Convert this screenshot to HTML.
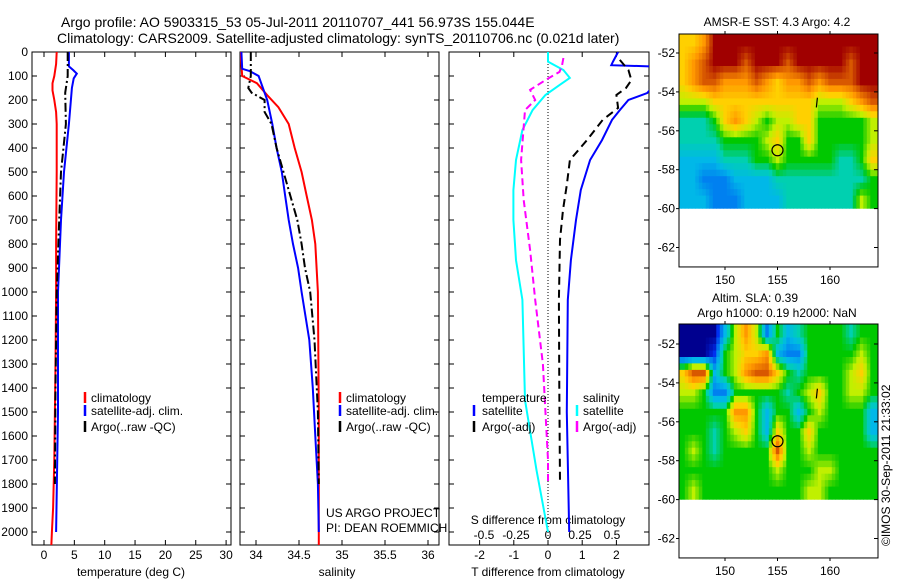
<!DOCTYPE html>
<html><head><meta charset="utf-8"><style>
body{margin:0;background:#fff}
svg{display:block;font-family:"Liberation Sans",sans-serif;font-size:12px}
</style></head><body>
<svg id="fig" width="900" height="580" xmlns="http://www.w3.org/2000/svg"></svg>
<script>
// ---------- data ----------
const tempClimDepth=[0,50,100,130,160,200,250,300,500,800,1000,1300,1500,1700,1900,2000,2060];
const tempClimVal=[2.1,2.0,1.7,1.4,1.4,1.7,2.0,2.1,2.1,2.0,2.0,1.9,1.8,1.7,1.5,1.3,1.2];
const tempSatDepth=[0,60,75,90,110,150,300,500,700,1000,1500,2000];
const tempSatVal=[4.1,4.1,4.8,5.4,4.9,4.6,4.1,3.3,2.8,2.3,2.3,2.0];
const tempArgoDepth=[0,100,170,300,500,700,1000,1400,1800];
const tempArgoVal=[3.9,3.9,3.5,3.6,2.8,2.5,2.1,1.9,1.8];

const salClimDepth=[0,100,130,180,230,300,400,500,600,700,800,1000,1500,2060];
const salClimVal=[33.82,33.84,34.01,34.13,34.26,34.38,34.45,34.53,34.59,34.65,34.69,34.72,34.73,34.73];
const salSatDepth=[0,70,80,100,150,200,300,400,500,600,700,800,900,1000,1200,1400,1600,1800,2000];
const salSatVal=[33.83,33.84,33.93,34.03,34.08,34.13,34.19,34.24,34.30,34.34,34.38,34.43,34.49,34.53,34.62,34.66,34.69,34.72,34.73];
const salArgoDepth=[0,100,150,170,200,250,300,400,500,600,700,800,900,1000,1200,1500,1800];
const salArgoVal=[33.94,33.94,33.91,33.95,34.10,34.10,34.18,34.24,34.32,34.40,34.48,34.53,34.57,34.63,34.68,34.72,34.73];

const dTSatDepth=[0,40,55,62,66,75,171,200,242,283,367,450,575,700,867,1033,1500,2000];
const dTSatVal=[2.05,1.9,1.85,3.5,3.5,3.5,2.9,2.35,2.1,1.87,1.58,1.23,0.96,0.82,0.67,0.58,0.55,0.62];
const dTArgoDepth=[33,75,117,150,179,233,283,367,450,554,658,783,1033,1400,1800];
const dTArgoVal=[2.1,2.35,2.44,2.28,2.0,2.05,1.6,1.14,0.64,0.55,0.44,0.35,0.32,0.33,0.35];
const dSSatDepth=[0,40,75,108,138,179,242,325,450,575,700,867,1033,1450,1742,2000];
const dSSatVal=[0,0,0.12,0.17,0.09,-0.02,-0.12,-0.2,-0.25,-0.27,-0.27,-0.25,-0.2,-0.18,-0.09,0];
const dSArgoDepth=[25,54,83,117,158,200,242,450,617,825,1033,1300,1700,1800];
const dSArgoVal=[0.12,0.11,0.09,-0.02,-0.14,-0.1,-0.18,-0.21,-0.19,-0.14,-0.1,-0.04,0,0];

const depthTicks=[0,100,200,300,400,500,600,700,800,900,1000,1100,1200,1300,1400,1500,1600,1700,1800,1900,2000];
const tempTicks=[0,5,10,15,20,25,30];
const salTicks=[34,34.5,35,35.5,36];
const salTickLabels=["34","34.5","35","35.5","36"];
const dTTicks=[-2,-1,0,1,2];
const dSTicks=[-0.5,-0.25,0,0.25,0.5];
const dSTickLabels=["-0.5","-0.25","0","0.25","0.5"];
const latTicks=[-52,-54,-56,-58,-60,-62];
const lonTicks=[150,155,160];

const sstGrid=[
[7,7,8,10,10,10,10,10,10,10,10,10,10,10,10,10,10,10,10],
[7,8,9,10,10,10,9,10,10,10,9,10,10,10,10,10,9,10,10],
[7,8,9,9,8,8,8,9,8,7,8,8,9,8,9,9,9,10,10],
[6,6,6,7,7,7,7,7,7,7,7,7,7,6,6,6,7,8,9],
[4,4,4,5,7,8,7,6,5,6,6,7,7,5,5,5,5,5,6],
[4,4,4,4,5,5,5,5,6,7,5,5,7,5,5,5,5,5,6],
[3,3,3,3,4,4,4,5,5,6,5,5,5,5,5,4,4,5,7],
[3,3,2,2,2,3,3,3,3,4,4,4,4,4,4,4,4,4,5],
[3,3,3,2,2,2,3,3,3,3,4,4,4,4,4,4,4,6,5]];
const slaGrid=[
[0,0,0,0,3,6,8,6,2,5,3,4,5,5,5,5,4,5,5],
[0,0,0,1,5,6,7,7,8,3,2,2,5,5,5,5,5,6,5],
[7,9,9,3,5,6,8,9,9,7,5,4,5,5,5,5,6,7,5],
[6,6,5,2,2,5,5,5,5,5,4,5,6,7,5,5,6,6,5],
[5,5,5,5,5,8,8,5,3,5,5,3,5,6,5,5,5,5,3],
[5,5,5,4,5,6,7,5,3,7,5,5,7,5,5,5,5,5,3],
[5,6,5,4,5,5,5,5,5,9,5,5,6,5,5,5,5,5,5],
[5,5,5,5,5,5,5,5,5,6,5,5,5,6,6,5,5,5,5],
[5,6,5,5,5,5,5,5,5,5,5,5,6,6,5,5,5,5,5]];
const gridLon0=146, gridLat0=-51.5;
const argoLon=155.0, argoLat=-57.0;
const cmap=["#00008f","#0030f0","#0080f0","#00b8e8","#00d0b0","#00c800","#c0f000","#ffd000","#ff9800","#d85800","#a00000"];

// ---------- helpers ----------
const NS="http://www.w3.org/2000/svg";
const svg=document.getElementById('fig');
function mk(tag,attrs,parent){const e=document.createElementNS(NS,tag);for(const k in attrs)e.setAttribute(k,attrs[k]);(parent||svg).appendChild(e);return e;}
function txt(x,y,s,anchor,name,extra){const e=mk('text',Object.assign({x:x,y:y,'text-anchor':anchor||'start'},extra||{}));e.textContent=s;


return e;}
const yD=d=>52+d*0.24;
const xT=v=>44+v*6.07;
const xS=v=>256+(v-34)*86;
const xDT=v=>548+v*34.2;
const xDS=v=>548+v*128;

function hex2rgb(h){return [1,3,5].map(i=>parseInt(h.substr(i,2),16));}
const cmapRGB=cmap.map(hex2rgb);
function colorAt(v){v=Math.max(0,Math.min(10,v));const i=Math.min(9,Math.floor(v)),f=v-i;
  const a=cmapRGB[i],b=cmapRGB[i+1];return 'rgb('+a.map((c,k)=>Math.round(c+(b[k]-c)*f)).join(',')+')';}
function sample(grid,r,c){const R=grid.length,C=grid[0].length;
  r=Math.max(0,Math.min(R-1,r));c=Math.max(0,Math.min(C-1,c));
  const r0=Math.floor(r),c0=Math.floor(c),r1=Math.min(R-1,r0+1),c1=Math.min(C-1,c0+1),fr=r-r0,fc=c-c0;
  return grid[r0][c0]*(1-fr)*(1-fc)+grid[r0][c1]*(1-fr)*fc+grid[r1][c0]*fr*(1-fc)+grid[r1][c1]*fr*fc;}

function panel(x0,x1,name,clipId){
  const r=mk('rect',{x:x0,y:52,width:x1-x0,height:493,fill:'none',stroke:'#000','stroke-width':1});
  
  
  const cp=mk('clipPath',{id:clipId});mk('rect',{x:x0,y:52,width:x1-x0,height:493},cp);
  depthTicks.forEach(d=>{const y=yD(d);
    mk('line',{x1:x0,y1:y,x2:x0+5,y2:y,stroke:'#000'});mk('line',{x1:x1,y1:y,x2:x1-5,y2:y,stroke:'#000'});});
}
function xticks(vals,f,x0,x1,labels,name){vals.forEach((v,i)=>{const x=f(v);
  mk('line',{x1:x,y1:52,x2:x,y2:57,stroke:'#000'});mk('line',{x1:x,y1:545,x2:x,y2:540,stroke:'#000'});
  if(labels)txt(x,559,labels[i],'middle',name);});}
function curve(depths,vals,f,color,dash,clip,name){
  const pts=depths.map((d,i)=>f(vals[i]).toFixed(1)+','+yD(d).toFixed(1)).join(' ');
  const a={points:pts,fill:'none',stroke:color,'stroke-width':2,'clip-path':'url(#'+clip+')'};
  if(dash)a['stroke-dasharray']=dash;
  const p=mk('polyline',a);
  
  
}
function legendMark(x,y,color){mk('line',{x1:x,y1:y-10,x2:x,y2:y+1,stroke:color,'stroke-width':2.5});}

// titles
txt(61,27,'Argo profile: AO 5903315_53 05-Jul-2011 20110707_441 56.973S 155.044E','start','title-line-1',{'font-size':14});
txt(57,43,'Climatology: CARS2009. Satellite-adjusted climatology: synTS_20110706.nc (0.021d later)','start','title-line-2',{'font-size':14});

// panel 1
panel(32,231,'temperature-panel','c1');
depthTicks.forEach(d=>txt(28,yD(d)+4,String(d),'end','depth-tick-label'));
xticks(tempTicks,xT,32,231,tempTicks.map(String),'temperature-tick-label');
txt(131,576,'temperature (deg C)','middle','temperature-axis-title');
curve(tempClimDepth,tempClimVal,xT,'#ff0000',null,'c1','temp-climatology-line');
curve(tempSatDepth,tempSatVal,xT,'#0000ff',null,'c1','temp-satellite-line');
curve(tempArgoDepth,tempArgoVal,xT,'#000000','9,3,2,3','c1','temp-argo-line');
legendMark(85,402,'#ff0000');txt(91,402,'climatology','start','legend-climatology');
legendMark(85,415,'#0000ff');txt(91,415,'satellite-adj. clim.','start','legend-satellite');
legendMark(85,431,'#000');txt(91,431,'Argo(..raw -QC)','start','legend-argo');

// panel 2
panel(240,439,'salinity-panel','c2');
xticks(salTicks,xS,240,439,salTickLabels,'salinity-tick-label');
txt(337,576,'salinity','middle','salinity-axis-title');
curve(salClimDepth,salClimVal,xS,'#ff0000',null,'c2','sal-climatology-line');
curve(salSatDepth,salSatVal,xS,'#0000ff',null,'c2','sal-satellite-line');
curve(salArgoDepth,salArgoVal,xS,'#000000','9,3,2,3','c2','sal-argo-line');
legendMark(340,402,'#ff0000');txt(346,402,'climatology','start','legend-climatology-2');
legendMark(340,415,'#0000ff');txt(346,415,'satellite-adj. clim.','start','legend-satellite-2');
legendMark(340,431,'#000');txt(346,431,'Argo(..raw -QC)','start','legend-argo-2');
txt(326,517,'US ARGO PROJECT','start','project-label');
txt(326,532,'PI: DEAN ROEMMICH','start','pi-label');

// panel 3
panel(449,649,'difference-panel','c3');
xticks(dTTicks,xDT,449,649,dTTicks.map(String),'t-diff-tick-label');
dSTicks.forEach((v,i)=>txt(xDS(v),539,dSTickLabels[i],'middle','s-diff-tick-label'));
txt(548,524,'S difference from climatology','middle','s-diff-axis-title');
txt(548,576,'T difference from climatology','middle','t-diff-axis-title');
mk('line',{x1:548,y1:52,x2:548,y2:545,stroke:'#000','stroke-dasharray':'1,2'});
curve(dTSatDepth,dTSatVal,xDT,'#0000ff',null,'c3','t-diff-satellite-line');
curve(dTArgoDepth,dTArgoVal,xDT,'#000000','8,5','c3','t-diff-argo-line');
curve(dSSatDepth,dSSatVal,xDS,'#00ffff',null,'c3','s-diff-satellite-line');
curve(dSArgoDepth,dSArgoVal,xDS,'#ff00ff','7,4','c3','s-diff-argo-line');
txt(482,402,'temperature','start','legend-temperature-header');
legendMark(474,415,'#0000ff');txt(482,415,'satellite','start','legend-t-satellite');
legendMark(474,431,'#000');txt(482,431,'Argo(-adj)','start','legend-t-argo');
txt(583,402,'salinity','start','legend-salinity-header');
legendMark(577,415,'#00ffff');txt(583,415,'satellite','start','legend-s-satellite');
legendMark(577,431,'#ff00ff');txt(583,431,'Argo(-adj)','start','legend-s-argo');

// maps
function mapPanel(top,grid,name,latRef){
  const L=679,R=878;
  const xL=lon=>725+(lon-150)*10.5;
  const yL=lat=>latRef+(-52-lat)*19.45;
  const bottom=yL(-63);
  const cid='m'+top;const cp=mk('clipPath',{id:cid});mk('rect',{x:L,y:top,width:R-L,height:yL(-60)-top},cp);
  const g=mk('g',{'clip-path':'url(#'+cid+')'});
  
  
  const sub=3, rows=grid.length, cols=grid[0].length;
  for(let rr=-1;rr<(rows+1)*sub;rr++){for(let cc=-2;cc<(cols+1)*sub;cc++){
    const r=(rr+0.5)/sub-0.5, c=(cc+0.5)/sub-0.5;
    const lon=gridLon0+c-0.5/sub, lat=gridLat0-r+0.5/sub;
    const x=xL(lon), y=yL(lat);
    const cell=mk('rect',{x:x.toFixed(1),y:y.toFixed(1),width:(10.5/sub+0.5).toFixed(2),height:(19.45/sub+0.5).toFixed(2),fill:colorAt(sample(grid,r,c))},g);
    
    
  }}
  const fr=mk('rect',{x:L,y:top,width:R-L,height:bottom-top,fill:'none',stroke:'#000'});
  
  
  latTicks.forEach(la=>{const y=yL(la);mk('line',{x1:R,y1:y,x2:R-4,y2:y,stroke:'#000'});mk('line',{x1:L,y1:y,x2:L-3,y2:y,stroke:'#000'});
    txt(L-4,y+4,String(la),'end',name+'-lat-label');});
  lonTicks.forEach(lo=>{const x=xL(lo);mk('line',{x1:x,y1:top,x2:x,y2:top-3,stroke:'#000'});mk('line',{x1:x,y1:bottom,x2:x,y2:bottom+3,stroke:'#000'});
    txt(x,bottom+17,String(lo),'middle',name+'-lon-label');});
  const c=mk('circle',{cx:xL(argoLon),cy:yL(argoLat),r:5.5,fill:'none',stroke:'#000','stroke-width':1.2});
  
  
  mk('line',{x1:xL(158.8),y1:yL(-54.3),x2:xL(158.7),y2:yL(-54.8),stroke:'#000','stroke-width':1.2});
}
mapPanel(34,sstGrid,'sst-map',53);
txt(777,26,'AMSR-E SST: 4.3 Argo: 4.2','middle','sst-map-title');
mapPanel(324,slaGrid,'sla-map',344);
txt(755,302,'Altim. SLA: 0.39','middle','sla-map-title');
txt(777,317,'Argo h1000: 0.19 h2000: NaN','middle','sla-map-subtitle');
txt(890,546,'©IMOS 30-Sep-2011 21:33:02','start','copyright-label',{transform:'rotate(-90 890 546)'});
</script>
</body></html>
